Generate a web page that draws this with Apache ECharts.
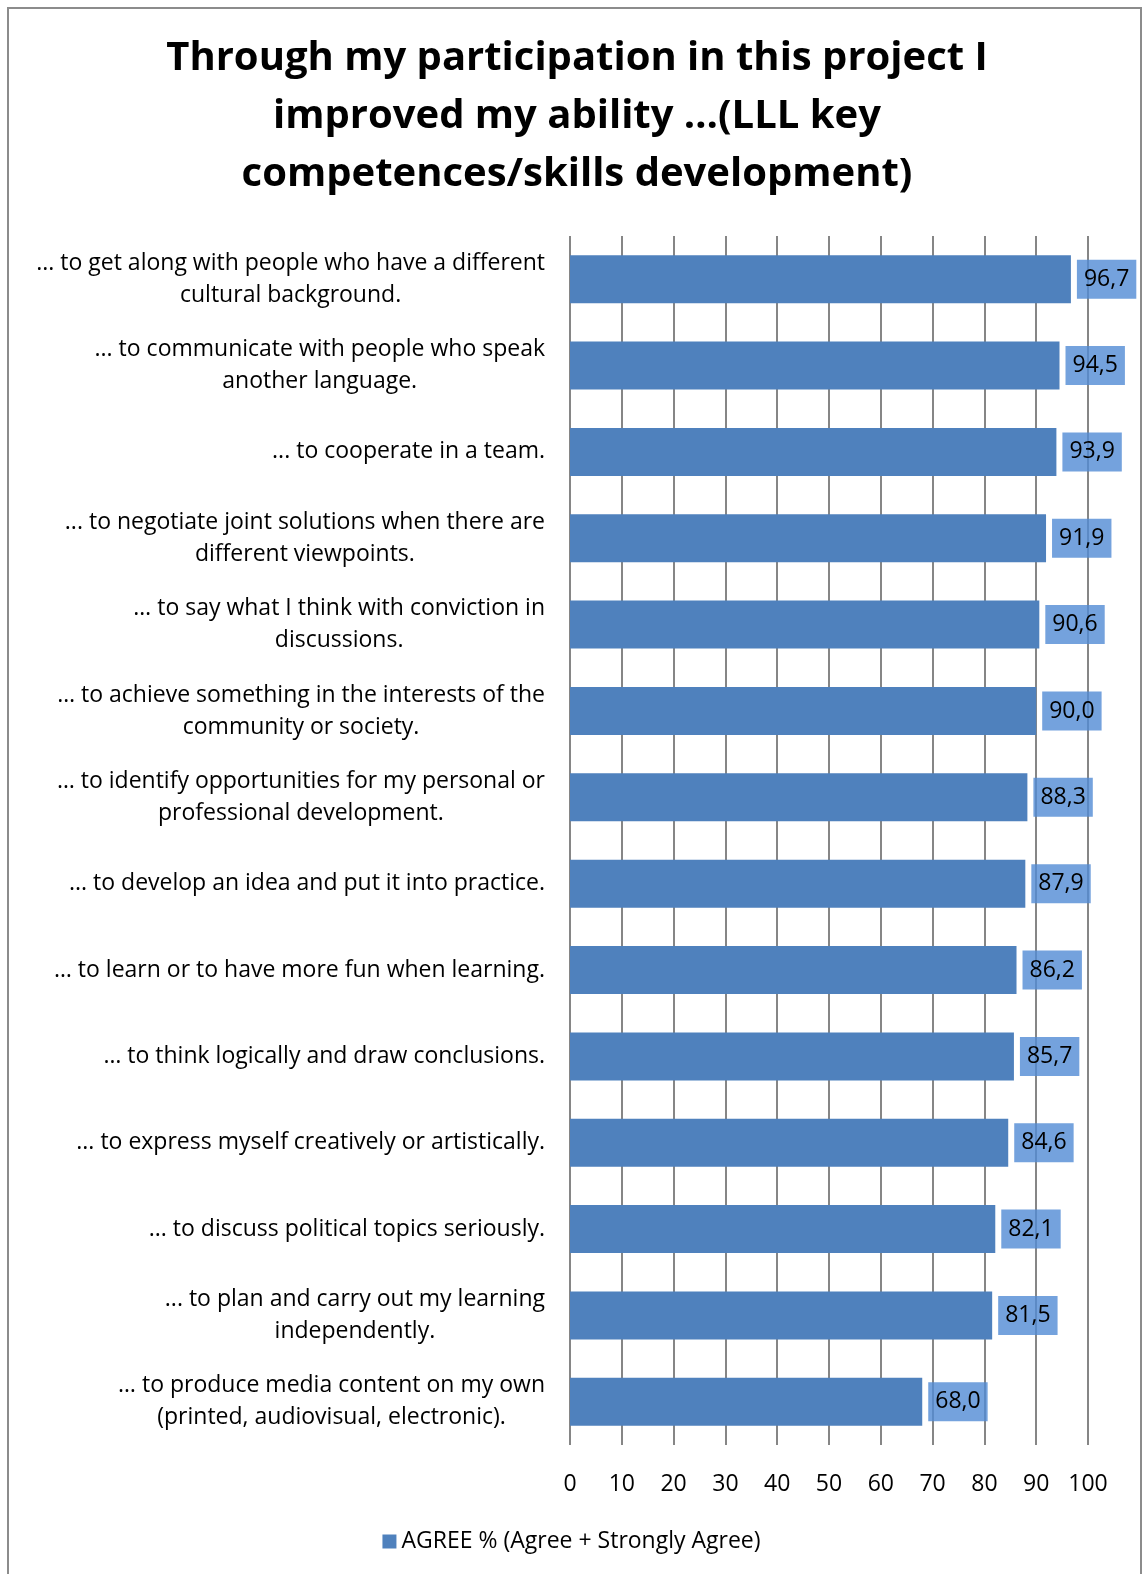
<!DOCTYPE html>
<html>
<head>
<meta charset="utf-8">
<script src="https://cdn.jsdelivr.net/npm/echarts@6/dist/echarts.min.js"></script>
<style>
  html, body { margin: 0; padding: 0; background: #fff; }
  #frame { position: absolute; left: 7px; top: 7px; width: 1131px; height: 1600px; border: 2px solid #8c8c8c; }
  #chart { position: absolute; left: 0; top: 0; width: 1143px; height: 1574px; }
</style>
</head>
<body>
<div id="frame"></div>
<div id="chart"></div>
<script>
// categories, top to bottom
const categories = [
  '... to get along with people who have a different\ncultural background.',
  '... to communicate with people who speak\nanother language.',
  '... to cooperate in a team.',
  '... to negotiate joint solutions when there are\ndifferent viewpoints.',
  '… to say what I think with conviction in\ndiscussions.',
  '… to achieve something in the interests of the\ncommunity or society.',
  '… to identify opportunities for my personal or\nprofessional development.',
  '... to develop an idea and put it into practice.',
  '… to learn or to have more fun when learning.',
  '… to think logically and draw conclusions.',
  '... to express myself creatively or artistically.',
  '... to discuss political topics seriously.',
  '... to plan and carry out my learning\nindependently.',
  '… to produce media content on my own\n(printed, audiovisual, electronic).'
]
const agreeValues = [96.7, 94.5, 93.9, 91.9, 90.6, 90.0, 88.3, 87.9, 86.2, 85.7, 84.6, 82.1, 81.5, 68.0]
const seriesName = 'AGREE % (Agree + Strongly Agree)'

const font = '"Open Sans", Lato, sans-serif'
const chart = echarts.init(document.getElementById('chart'))

chart.setOption({
  animation: false,
  title: {
    text: 'Through my participation in this project I\nimproved my ability …(LLL key\ncompetences/skills development)',
    left: 572,
    textAlign: 'center',
    top: 25,
    textStyle: {
      fontFamily: font,
      fontWeight: 'bold',
      fontSize: 40,
      lineHeight: 58,
      color: '#000'
    }
  },
  legend: {
    data: [seriesName],
    left: 'center',
    top: 1525,
    icon: 'rect',
    itemWidth: 14,
    itemHeight: 14,
    itemGap: 6,
    textStyle: { fontFamily: font, fontSize: 23, color: '#000' }
  },
  grid: {
    left: 570,
    right: 55,
    top: 236,
    bottom: 129
  },
  xAxis: {
    type: 'value',
    min: 0,
    max: 100,
    interval: 10,
    axisLine: { show: false },
    axisTick: { show: false },
    splitLine: { show: true, lineStyle: { color: '#868686', width: 2 } },
    axisLabel: {
      margin: 28,
      fontFamily: font,
      fontSize: 23,
      color: '#000'
    }
  },
  yAxis: {
    type: 'category',
    inverse: true,
    data: categories,
    axisLine: { show: false },
    axisTick: { show: false },
    axisLabel: {
      margin: 25,
      align: 'right',
      formatter: function(value) {
        // each line centred inside the right-aligned block
        return value.split('\n').map(function(l) { return '{c|' + l + '}' }).join('\n')
      },
      rich: {
        c: {
          align: 'center',
          fontFamily: font,
          fontSize: 23,
          lineHeight: 32,
          color: '#000'
        }
      }
    }
  },
  series: [{
    name: seriesName,
    type: 'bar',
    data: agreeValues,
    barWidth: 48,
    itemStyle: { color: '#4f81bd' },
    label: {
      show: true,
      position: 'right',
      distance: 6,
      formatter: function(p) { return p.value.toFixed(1).replace('.', ',') },
      fontFamily: font,
      fontSize: 23,
      color: '#000',
      backgroundColor: 'rgba(81,139,212,0.8)',
      padding: [8, 7, 8, 7]
    }
  }]
})
</script>
</body>
</html>
